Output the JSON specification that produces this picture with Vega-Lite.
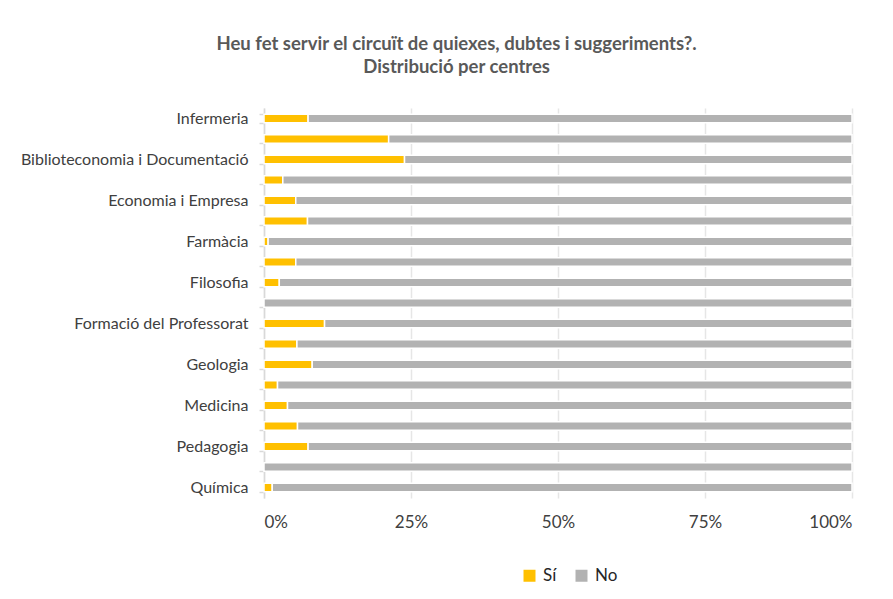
{
  "$schema": "https://vega.github.io/schema/vega-lite/v6.json",
  "width": 588,
  "height": 390,
  "autosize": {"type": "pad"},
  "padding": {"left": 20, "top": 34, "right": 30, "bottom": 10},
  "background": "white",
  "title": {
    "text": ["Heu fet servir el circuït de quiexes, dubtes i suggeriments?.", "Distribució per centres"],
    "font": "Lato",
    "fontSize": 18.5,
    "fontWeight": "bold",
    "color": "#595959",
    "anchor": "middle",
    "frame": "bounds",
    "lineHeight": 23,
    "offset": 24,
    "dx": 20
  },
  "data": {
    "values": [
      {"centre": "Infermeria", "resposta": "Sí", "valor": 0.075},
      {"centre": "Infermeria", "resposta": "No", "valor": 0.925},
      {"centre": "Belles Arts", "resposta": "Sí", "valor": 0.212},
      {"centre": "Belles Arts", "resposta": "No", "valor": 0.788},
      {"centre": "Biblioteconomia i Documentació", "resposta": "Sí", "valor": 0.239},
      {"centre": "Biblioteconomia i Documentació", "resposta": "No", "valor": 0.761},
      {"centre": "Biologia", "resposta": "Sí", "valor": 0.032},
      {"centre": "Biologia", "resposta": "No", "valor": 0.968},
      {"centre": "Economia i Empresa", "resposta": "Sí", "valor": 0.054},
      {"centre": "Economia i Empresa", "resposta": "No", "valor": 0.946},
      {"centre": "Dret", "resposta": "Sí", "valor": 0.074},
      {"centre": "Dret", "resposta": "No", "valor": 0.926},
      {"centre": "Farmàcia", "resposta": "Sí", "valor": 0.007},
      {"centre": "Farmàcia", "resposta": "No", "valor": 0.993},
      {"centre": "Filologia", "resposta": "Sí", "valor": 0.054},
      {"centre": "Filologia", "resposta": "No", "valor": 0.946},
      {"centre": "Filosofia", "resposta": "Sí", "valor": 0.026},
      {"centre": "Filosofia", "resposta": "No", "valor": 0.974},
      {"centre": "Física", "resposta": "Sí", "valor": 0.0},
      {"centre": "Física", "resposta": "No", "valor": 1.0},
      {"centre": "Formació del Professorat", "resposta": "Sí", "valor": 0.103},
      {"centre": "Formació del Professorat", "resposta": "No", "valor": 0.897},
      {"centre": "Geografia i Història", "resposta": "Sí", "valor": 0.056},
      {"centre": "Geografia i Història", "resposta": "No", "valor": 0.944},
      {"centre": "Geologia", "resposta": "Sí", "valor": 0.082},
      {"centre": "Geologia", "resposta": "No", "valor": 0.918},
      {"centre": "Matemàtiques", "resposta": "Sí", "valor": 0.023},
      {"centre": "Matemàtiques", "resposta": "No", "valor": 0.977},
      {"centre": "Medicina", "resposta": "Sí", "valor": 0.04},
      {"centre": "Medicina", "resposta": "No", "valor": 0.96},
      {"centre": "Odontologia", "resposta": "Sí", "valor": 0.057},
      {"centre": "Odontologia", "resposta": "No", "valor": 0.943},
      {"centre": "Pedagogia", "resposta": "Sí", "valor": 0.075},
      {"centre": "Pedagogia", "resposta": "No", "valor": 0.925},
      {"centre": "Psicologia", "resposta": "Sí", "valor": 0.0},
      {"centre": "Psicologia", "resposta": "No", "valor": 1.0},
      {"centre": "Química", "resposta": "Sí", "valor": 0.014},
      {"centre": "Química", "resposta": "No", "valor": 0.986}
    ]
  },
  "mark": {"type": "bar", "stroke": "white", "strokeWidth": 1.5},
  "encoding": {
    "y": {
      "field": "centre",
      "type": "nominal",
      "sort": null,
      "scale": {"paddingInner": 0.58, "paddingOuter": 0.3},
      "axis": {
        "title": null,
        "labelExpr": "indexof(['Infermeria','Biblioteconomia i Documentació','Economia i Empresa','Farmàcia','Filosofia','Formació del Professorat','Geologia','Medicina','Pedagogia','Química'], datum.value) >= 0 ? datum.value : ''",
        "labelFont": "Lato",
        "labelFontSize": 16,
        "labelLimit": 400,
        "labelColor": "#404040",
        "labelPadding": 11,
        "tickBand": "extent",
        "tickColor": "#d9d9d9",
        "tickSize": 5,
        "tickWidth": 1.5,
        "domainColor": "#d9d9d9",
        "domainWidth": 1.5,
        "grid": false
      }
    },
    "x": {
      "field": "valor",
      "type": "quantitative",
      "stack": "zero",
      "scale": {"domain": [0, 1], "nice": false},
      "axis": {
        "title": null,
        "format": ".0%",
        "values": [0, 0.25, 0.5, 0.75, 1],
        "labelFont": "Lato",
        "labelFontSize": 17,
        "labelColor": "#404040",
        "labelPadding": 16,
        "domain": false,
        "ticks": false,
        "grid": true,
        "gridColor": "#e6e6e6",
        "gridWidth": 1.5
      }
    },
    "color": {
      "field": "resposta",
      "type": "nominal",
      "scale": {"domain": ["Sí", "No"], "range": ["#FFC000", "#B2B2B2"]},
      "legend": {
        "title": null,
        "orient": "none",
        "legendX": 257,
        "legendY": 459,
        "direction": "horizontal",
        "symbolType": "square",
        "symbolSize": 144,
        "symbolStrokeWidth": 0,
        "labelFont": "Lato",
        "labelFontSize": 17,
        "labelColor": "#262626",
        "labelOffset": 5,
        "columnPadding": 16
      }
    },
    "order": {"field": "resposta", "sort": "descending"}
  },
  "config": {"view": {"stroke": null}}
}
